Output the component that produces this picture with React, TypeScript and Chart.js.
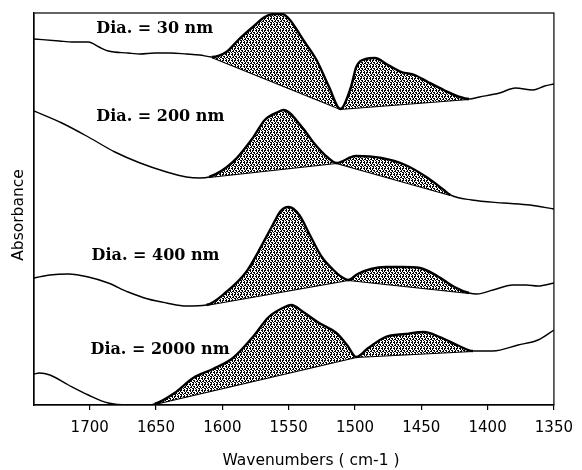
import React, { useEffect, useRef } from "react";
import { Chart, registerables } from "chart.js";

Chart.register(...registerables);

// Wavenumber axis (cm-1), drawn high → low
const axisMin = 1350;
const axisMax = 1742;
const wavenumberTicks = [1700, 1650, 1600, 1550, 1500, 1450, 1400, 1350];

// Spectrum: Dia. = 30 nm (stacked offset included)
const wn30 = [1742, 1723, 1713, 1701, 1693, 1686, 1671, 1662, 1651, 1639, 1627, 1617, 1608, 1597, 1588, 1577, 1568, 1561, 1555, 1549, 1539, 1529, 1519.5, 1511, 1503, 1499, 1492, 1485, 1475, 1465, 1455, 1445, 1433, 1421, 1414, 1406, 1391, 1379, 1366, 1357, 1350];
const abs30 = [3.66, 3.64, 3.63, 3.63, 3.58, 3.54, 3.52, 3.51, 3.52, 3.52, 3.51, 3.5, 3.48, 3.53, 3.65, 3.78, 3.88, 3.91, 3.91, 3.85, 3.65, 3.45, 3.18, 2.96, 3.18, 3.38, 3.46, 3.47, 3.4, 3.33, 3.3, 3.23, 3.15, 3.08, 3.06, 3.08, 3.12, 3.17, 3.15, 3.19, 3.21];
const base30Wn = [1608, 1511, 1414];
const base30Abs = [3.48, 2.96, 3.06];

// Spectrum: Dia. = 200 nm
const wn200 = [1742, 1721, 1701, 1681, 1662, 1642, 1627, 1617, 1610, 1592, 1577, 1568, 1558, 1554, 1540, 1531, 1521, 1514, 1499.5, 1480, 1462, 1445, 1433, 1428, 1412, 1388, 1368, 1350];
const abs200 = [2.94, 2.82, 2.68, 2.53, 2.42, 2.33, 2.28, 2.27, 2.28, 2.43, 2.67, 2.85, 2.93, 2.95, 2.78, 2.62, 2.48, 2.42, 2.49, 2.47, 2.4, 2.27, 2.15, 2.1, 2.05, 2.02, 2.0, 1.96];
const base200Wn = [1610, 1514, 1428];
const base200Abs = [2.28, 2.42, 2.1];

// Spectrum: Dia. = 400 nm
const wn400 = [1742, 1730, 1716, 1701, 1686, 1671, 1656, 1642, 1627, 1612, 1597, 1582, 1573, 1562, 1556, 1550, 1542, 1534, 1525, 1517, 1510, 1505, 1498, 1488, 1477, 1464, 1451, 1438, 1425, 1414, 1408, 1396, 1381, 1371, 1362, 1350];
const abs400 = [1.27, 1.3, 1.31, 1.28, 1.22, 1.13, 1.06, 1.02, 0.99, 1.0, 1.13, 1.33, 1.53, 1.8, 1.94, 1.98, 1.9, 1.7, 1.48, 1.36, 1.28, 1.25, 1.31, 1.36, 1.38, 1.38, 1.37, 1.29, 1.18, 1.12, 1.11, 1.15, 1.2, 1.2, 1.19, 1.22];
const base400Wn = [1612, 1505, 1414];
const base400Abs = [1.0, 1.25, 1.12];

// Spectrum: Dia. = 2000 nm
const wn2000 = [1742, 1738, 1730, 1716, 1701, 1686, 1671, 1656, 1651, 1636, 1622, 1607, 1592, 1577, 1565, 1553, 1548, 1539, 1527, 1514, 1506, 1499, 1490, 1477, 1462, 1448, 1436, 1423, 1411, 1396, 1377, 1362, 1350];
const abs2000 = [0.31, 0.32, 0.3, 0.2, 0.1, 0.02, 0.0, 0.0, 0.01, 0.12, 0.27, 0.36, 0.47, 0.68, 0.88, 0.98, 1.0, 0.93, 0.82, 0.72, 0.6, 0.48, 0.57, 0.68, 0.71, 0.73, 0.68, 0.6, 0.54, 0.54, 0.6, 0.65, 0.75];
const base2000Wn = [1651, 1499, 1411];
const base2000Abs = [0.01, 0.48, 0.54];

// Sample captions and where each sits (wavenumber, absorbance)
const sampleLabels = ["Dia. = 30 nm", "Dia. = 200 nm", "Dia. = 400 nm", "Dia. = 2000 nm"];
const labelWn = [1695, 1695, 1698.6, 1699.4];
const labelAbs = [3.76, 2.88, 1.49, 0.55];

const xTitle = "Wavenumbers ( cm-1 )";
const yTitle = "Absorbance";

const toPoints = (xs: number[], ys: number[]) => xs.map((x, i) => ({ x, y: ys[i] }));

// Dense black-on-white stipple used for the band areas
const stippleRows = [
  "XX.XX.",
  "X...X.",
  ".XX..X",
  "..X.XX",
  "XX.X..",
  ".X..X.",
];

function makeStipple(): CanvasPattern | string {
  const n = stippleRows.length;
  const c = document.createElement("canvas");
  c.width = n;
  c.height = n;
  const g = c.getContext("2d");
  if (!g) return "#777";
  g.fillStyle = "#fff";
  g.fillRect(0, 0, n, n);
  g.fillStyle = "#000";
  stippleRows.forEach((row, r) => {
    for (let k = 0; k < row.length; k++) if (row[k] === "X") g.fillRect(k, r, 1, 1);
  });
  return g.createPattern(c, "repeat") || "#777";
}

const frameAndText = {
  id: "frameAndText",
  afterDatasetsDraw(chart: any) {
    const { ctx, chartArea: a, scales } = chart;
    const x = scales.x;
    const y = scales.y;
    ctx.save();
    ctx.strokeStyle = "#000";
    ctx.lineWidth = 1.2;
    ctx.strokeRect(a.left, a.top, a.right - a.left, a.bottom - a.top);

    ctx.fillStyle = "#000";
    ctx.font = 'bold 16px "DejaVu Serif"';
    ctx.textAlign = "left";
    ctx.textBaseline = "middle";
    sampleLabels.forEach((t, i) => {
      ctx.fillText(t, x.getPixelForValue(labelWn[i]), y.getPixelForValue(labelAbs[i]));
    });

    ctx.font = '15.5px "DejaVu Sans"';
    ctx.textAlign = "center";
    ctx.fillText(xTitle, (a.left + a.right) / 2 + 17, 461);
    ctx.translate(19, (a.top + a.bottom) / 2 + 6);
    ctx.rotate(-Math.PI / 2);
    ctx.fillText(yTitle, 0, 0);
    ctx.restore();
  },
};

export default function App() {
  const ref = useRef<HTMLCanvasElement | null>(null);

  useEffect(() => {
    if (!ref.current) return;
    const stipple = makeStipple();

    const spectra = [
      { wn: wn30, abs: abs30, bw: base30Wn, ba: base30Abs },
      { wn: wn200, abs: abs200, bw: base200Wn, ba: base200Abs },
      { wn: wn400, abs: abs400, bw: base400Wn, ba: base400Abs },
      { wn: wn2000, abs: abs2000, bw: base2000Wn, ba: base2000Abs },
    ];

    const datasets: any[] = [];
    spectra.forEach((s, i) => {
      const hi = s.bw[0];
      const lo = s.bw[s.bw.length - 1];
      const baseIndex = i * 2 + 1;
      datasets.push({
        data: toPoints(s.wn, s.abs),
        borderColor: "#000",
        borderWidth: 1.4,
        backgroundColor: stipple,
        fill: { target: baseIndex, above: stipple, below: stipple },
        pointRadius: 0,
        cubicInterpolationMode: "monotone",
        segment: {
          borderWidth: (c: any) => {
            const a0 = c.p0.parsed.x;
            const a1 = c.p1.parsed.x;
            return Math.max(a0, a1) <= hi && Math.min(a0, a1) >= lo ? 2.4 : 1.4;
          },
        },
      });
      datasets.push({
        data: toPoints(s.bw, s.ba),
        borderColor: "#000",
        borderWidth: 2.2,
        fill: false,
        pointRadius: 0,
        tension: 0,
      });
    });

    const chart = new Chart(ref.current, {
      type: "line",
      data: { datasets },
      options: {
        animation: false,
        responsive: true,
        maintainAspectRatio: false,
        layout: { padding: { top: 13, right: 18, left: 0, bottom: 0 } },
        plugins: { legend: { display: false }, tooltip: { enabled: false } },
        scales: {
          x: {
            type: "linear",
            reverse: true,
            min: axisMin,
            max: axisMax,
            afterBuildTicks: (s: any) => {
              s.ticks = wavenumberTicks.map((v) => ({ value: v }));
            },
            afterFit: (s: any) => {
              s.height = 65;
            },
            grid: { display: true, drawOnChartArea: false, drawTicks: true, tickLength: 5, color: "#000", lineWidth: 1.2 },
            border: { display: true, color: "#000", width: 1.2 },
            ticks: {
              color: "#000",
              font: { family: "DejaVu Sans", size: 15 },
              padding: 9,
              maxRotation: 0,
              autoSkip: false,
              callback: (v: any) => String(v),
            },
          },
          y: {
            type: "linear",
            min: 0,
            max: 3.92,
            afterFit: (s: any) => {
              s.width = 34;
            },
            grid: { display: false },
            border: { display: true, color: "#000", width: 1.2 },
            ticks: { display: false },
          },
        },
      },
      plugins: [frameAndText],
    });
    return () => chart.destroy();
  }, []);

  return (
    <div style={{ position: "fixed", left: 0, top: 0, width: 582, height: 470, background: "#fff" }}>
      <canvas ref={ref} />
    </div>
  );
}
